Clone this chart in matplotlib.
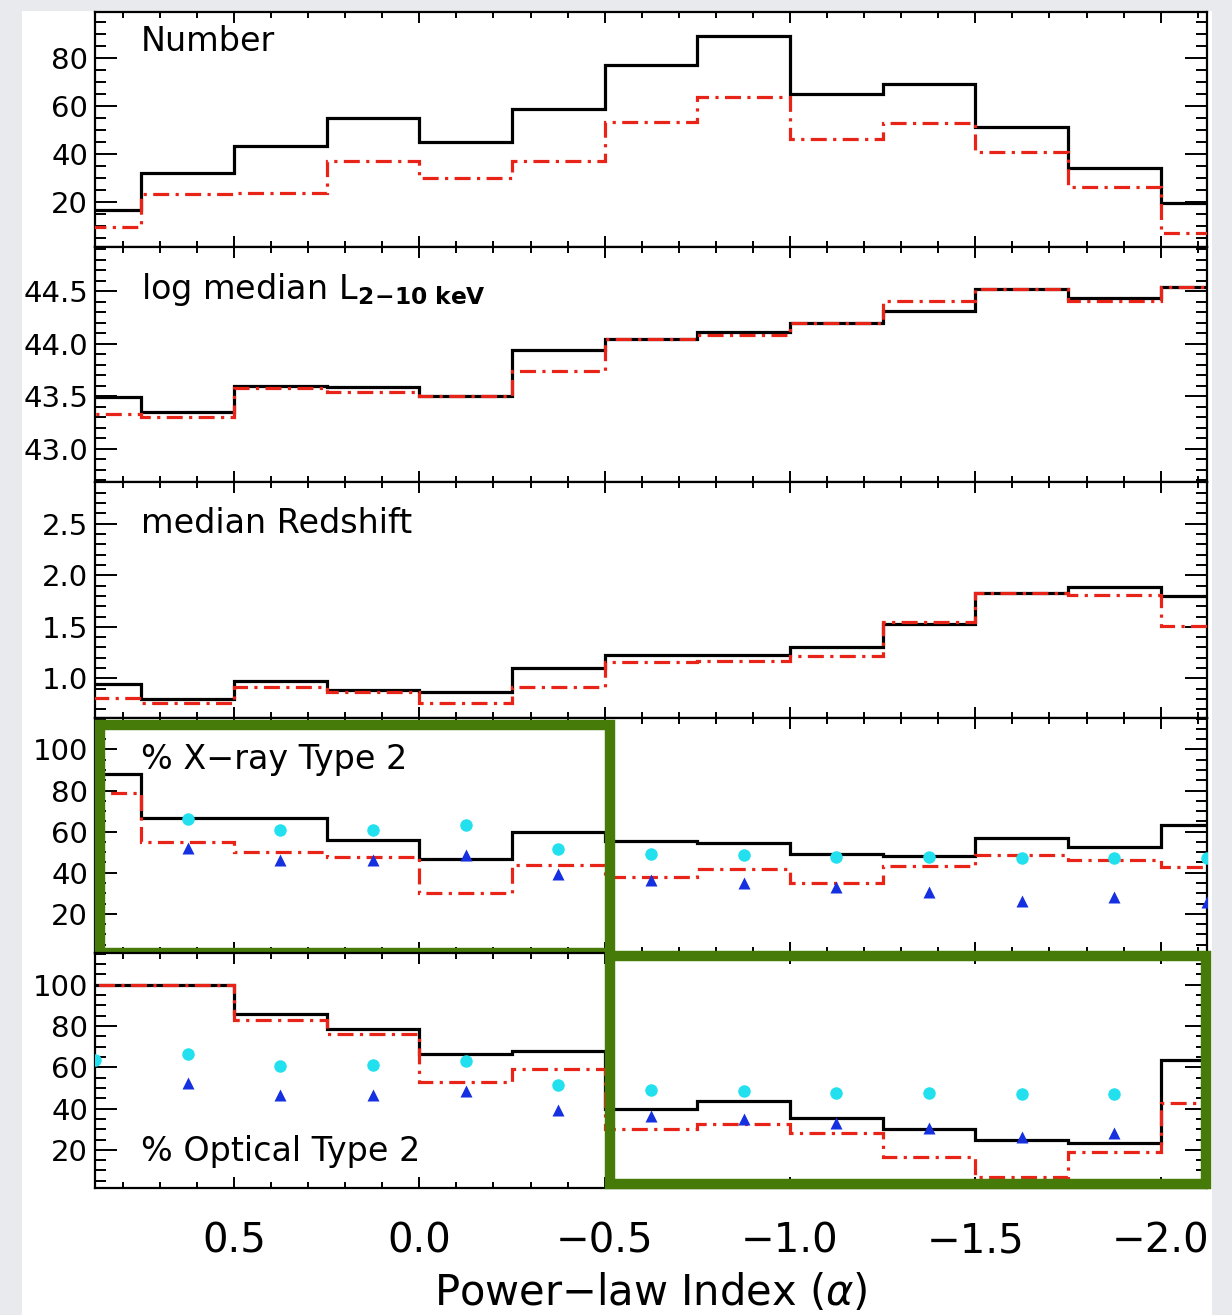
import numpy as np
import matplotlib
matplotlib.use("Agg")
import matplotlib.pyplot as plt
from matplotlib.patches import Rectangle
from matplotlib.ticker import MultipleLocator, FixedLocator, FuncFormatter
from matplotlib.transforms import blended_transform_factory

# bin centres of the power-law index (alpha)
alpha = [0.875, 0.625, 0.375, 0.125, -0.125, -0.375, -0.625,
         -0.875, -1.125, -1.375, -1.625, -1.875, -2.125]

num_all = [16.3, 31.8, 43.1, 55.0, 44.9, 58.6, 76.8, 89.0, 65.0, 68.8, 51.2, 34.1, 19.5]
num_sub = [9.6, 23.0, 23.7, 36.9, 30.0, 36.9, 53.0, 63.6, 45.9, 52.8, 40.8, 26.0, 7.1]

lum_all = [43.49, 43.35, 43.60, 43.59, 43.50, 43.94, 44.05, 44.11, 44.20, 44.31, 44.52, 44.44, 44.54]
lum_sub = [43.33, 43.30, 43.58, 43.54, 43.50, 43.74, 44.05, 44.08, 44.20, 44.41, 44.52, 44.41, 44.54]

z_all = [0.95, 0.80, 0.97, 0.89, 0.87, 1.10, 1.23, 1.23, 1.30, 1.53, 1.83, 1.89, 1.80]
z_sub = [0.81, 0.76, 0.92, 0.87, 0.76, 0.92, 1.16, 1.17, 1.22, 1.55, 1.83, 1.81, 1.51]

xray_all = [87.9, 66.5, 66.8, 56.0, 46.6, 59.8, 55.3, 54.5, 49.1, 48.3, 57.0, 52.5, 63.2]
xray_sub = [78.9, 54.9, 50.2, 47.7, 30.3, 43.9, 37.8, 41.9, 35.1, 43.3, 48.8, 46.0, 42.7]

opt_all = [100, 100, 86.0, 78.4, 66.6, 67.7, 40.0, 43.8, 35.4, 30.2, 24.9, 23.3, 63.4]
opt_sub = [100, 100, 83.1, 76.2, 53.1, 59.3, 30.2, 32.6, 28.0, 16.6, 6.9, 19.0, 42.8]

ref_circ = [63.4, 66.3, 60.8, 61.0, 63.0, 51.6, 49.2, 48.5, 47.7, 47.4, 47.2, 47.3, 47.2]
ref_tri = [np.nan, 52.2, 46.4, 46.4, 48.7, 39.2, 36.2, 34.9, 32.9, 30.8, 26.4, 28.0, 25.5]

titles = ["Number", r"log median L$_{\mathbf{2\!-\!10\ keV}}$", "median Redshift",
          "% X\u2212ray Type 2", "% Optical Type 2"]
title_y = [0.875, 0.82, 0.825, 0.82, 0.155]
ylims = [(1, 99), (42.68, 44.92), (0.62, 2.9), (1, 115.5), (1.5, 115.5)]
ymajor = [[20, 40, 60, 80], [43.0, 43.5, 44.0, 44.5], [1.0, 1.5, 2.0, 2.5],
          [20, 40, 60, 80, 100], [20, 40, 60, 80, 100]]
yminor = [5, 0.1, 0.1, 5, 5]
yfmt = ["{:.0f}", "{:.1f}", "{:.1f}", "{:.0f}", "{:.0f}"]

plt.rcParams['font.family'] = ['DejaVu Sans']
plt.rcParams['mathtext.fontset'] = 'dejavusans'

fig = plt.figure(figsize=(12.32, 13.15), dpi=100)
fig.patch.set_facecolor('#e8eaed')
fig.add_artist(Rectangle((22 / 1232, 0), 1190 / 1232, 1304 / 1315,
                         transform=fig.transFigure, facecolor='white',
                         edgecolor='none', zorder=-5))

gs = fig.add_gridspec(5, 1, left=95 / 1232, right=1207 / 1232,
                      top=1 - 12 / 1315, bottom=1 - 1188 / 1315, hspace=0)

a = np.array(alpha)
edges = np.append(a + 0.125, a[-1] - 0.125)

series = [(num_all, num_sub), (lum_all, lum_sub), (z_all, z_sub),
          (xray_all, xray_sub), (opt_all, opt_sub)]

axes = []
for i, (blk, red) in enumerate(series):
    ax = fig.add_subplot(gs[i])
    axes.append(ax)
    ax.stairs(blk, edges, color='black', lw=2.3, zorder=3)
    ax.stairs(red, edges, color='#e82418', lw=2.3, zorder=4,
              linestyle=(0, (5, 2, 1, 2)))
    if i >= 3:
        ax.plot(alpha, ref_circ, 'o', color='#22e0ee', ms=9, mec='none', zorder=5)
        ax.plot(alpha, ref_tri, '^', color='#1530e0', ms=9, mec='none', zorder=5)
    ax.set_xlim(0.875, -2.125)
    ax.set_ylim(*ylims[i])
    ax.xaxis.set_major_locator(MultipleLocator(0.5))
    ax.xaxis.set_minor_locator(MultipleLocator(0.1))
    ax.yaxis.set_major_locator(FixedLocator(ymajor[i]))
    ax.yaxis.set_minor_locator(MultipleLocator(yminor[i]))
    f = yfmt[i]
    ax.yaxis.set_major_formatter(FuncFormatter(lambda v, p, f=f: f.format(v)))
    ax.tick_params(which='both', direction='in', top=True, right=True, width=1.4,
                   labelsize=21, pad=5)
    ax.tick_params(axis='x', which='major', length=8)
    ax.tick_params(axis='x', which='minor', length=4)
    ax.tick_params(axis='y', which='major', length=16)
    ax.tick_params(axis='y', which='minor', length=8)
    for s in ax.spines.values():
        s.set_linewidth(1.6)
    ax.text(0.041, title_y[i], titles[i], transform=ax.transAxes,
            fontsize=24, va='center', ha='left')
    if i < 4:
        ax.tick_params(axis='x', labelbottom=False)

bot = axes[-1]
bot.xaxis.set_major_formatter(FuncFormatter(
    lambda v, p: f"{v:.1f}".replace('-', '\u2212') if abs(v) > 1e-9 else "0.0"))
bot.tick_params(axis='x', which='major', labelsize=29, pad=24)
bot.set_xlabel("Power\u2212law Index ($\\alpha$)", fontsize=30, labelpad=8)

# green highlight frames
green = '#467b0a'
tr4 = blended_transform_factory(axes[3].transData, axes[3].transAxes)
axes[3].add_patch(Rectangle((0.8615, 0.0), -0.5 - 0.0135 - 0.8615, 0.97,
                            transform=tr4, fill=False, edgecolor=green,
                            lw=7.5, clip_on=False, zorder=10))
tr5 = blended_transform_factory(axes[4].transData, axes[4].transAxes)
axes[4].add_patch(Rectangle((-0.5135, 0.017), -2.123 + 0.5135, 0.97,
                            transform=tr5, fill=False, edgecolor=green,
                            lw=7.5, clip_on=False, zorder=10))

fig.savefig("out.png", dpi=100, facecolor=fig.get_facecolor())
